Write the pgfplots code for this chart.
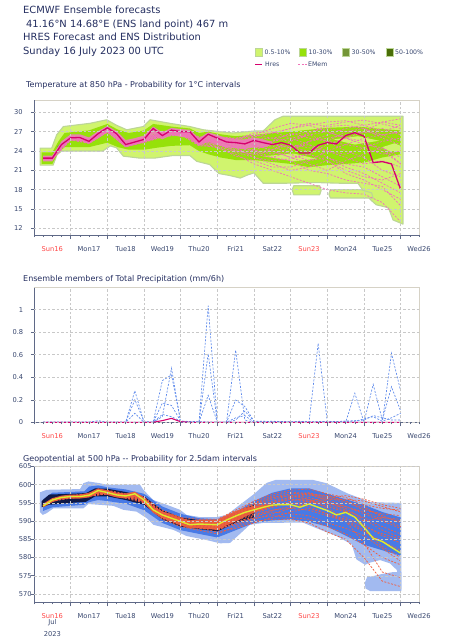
\documentclass[border=0pt]{standalone}
\usepackage{fontspec}
\setmainfont{DejaVu Sans}
\usepackage{pgfplots}
\usepackage{pgfplotstable}
\pgfplotsset{compat=1.18}

\definecolor{titleblue}{RGB}{35,45,95}
\definecolor{ticklab}{RGB}{55,70,110}
\definecolor{sunred}{RGB}{255,70,70}
\definecolor{spine}{RGB}{95,105,135}
\definecolor{frametan}{RGB}{214,210,198}
\definecolor{gridgray}{RGB}{200,200,200}
\definecolor{gLight}{RGB}{208,244,110}
\definecolor{gBorder}{RGB}{188,214,150}
\definecolor{gMid}{RGB}{150,225,10}
\definecolor{gOlive}{RGB}{116,150,55}
\definecolor{gDark}{RGB}{74,110,8}
\definecolor{pinkband}{RGB}{240,125,192}
\definecolor{memb}{RGB}{240,115,185}
\definecolor{hres}{RGB}{214,0,110}
\definecolor{pblue}{RGB}{90,135,235}
\definecolor{bLight}{RGB}{162,186,240}
\definecolor{bMid}{RGB}{72,122,230}
\definecolor{bDark}{RGB}{15,25,70}
\definecolor{orangeband}{RGB}{238,95,60}
\definecolor{zmemb}{RGB}{240,95,65}
\definecolor{zyellow}{RGB}{222,236,45}

\pgfplotstableread{
h m1 m2 m3 m4 m5 m6 m7 m8 m9 m10 m11 m12 m13 m14 m15 m16 m17 m18 m19 m20 m21 m22
6 23.0 22.8 22.9 23.0 22.8 22.9 22.9 23.0 22.7 22.9 22.9 22.8 23.0 22.9 22.9 22.8 23.0 22.9 22.9 22.8 23.0 22.9
12 23.0 22.8 22.9 23.0 22.8 22.9 22.9 23.0 22.7 22.9 22.9 22.8 23.0 22.9 22.9 22.8 23.0 22.9 22.9 22.8 23.0 22.9
24 26.0 25.8 26.0 26.2 26.1 26.0 25.9 26.3 25.7 26.0 26.1 25.9 26.0 26.0 26.0 25.9 26.1 26.0 26.0 25.9 26.2 26.0
36 25.8 25.2 25.5 25.6 25.4 25.7 25.3 25.8 25.2 25.5 25.6 25.4 25.7 25.5 25.5 25.4 25.7 25.6 25.5 25.3 25.8 25.6
48 27.5 27.0 27.4 27.3 27.6 27.2 27.1 27.7 26.9 27.3 27.4 27.2 27.5 27.3 27.4 27.1 27.6 27.3 27.2 27.0 27.6 27.3
60 25.3 24.8 25.0 25.2 25.1 24.9 24.6 25.5 24.7 25.0 25.1 24.9 25.2 25.0 25.0 24.8 25.3 25.1 25.0 24.7 25.4 25.0
72 26.0 25.4 25.8 25.6 25.7 25.9 25.5 25.9 25.3 25.6 25.7 25.6 25.8 25.7 25.8 25.5 26.0 25.7 25.6 25.4 26.0 25.7
84 26.8 26.2 26.5 26.7 26.4 26.6 26.3 27.0 26.2 26.5 26.6 26.4 26.7 26.5 26.6 26.3 26.9 26.5 26.6 26.2 26.8 26.5
96 27.2 26.5 27.0 26.8 27.1 27.0 26.8 27.3 26.6 26.9 27.0 26.9 27.1 27.0 27.0 26.8 27.2 26.9 27.0 26.7 27.2 27.0
108 26.0 25.0 25.6 25.3 25.5 25.8 25.1 26.2 24.8 25.4 25.5 25.2 25.7 25.4 25.6 25.3 25.9 25.5 25.4 25.0 26.0 25.5
120 26.2 24.5 25.5 25.8 25.3 25.7 25.0 26.0 24.7 25.9 26.0 25.2 25.6 25.4 25.8 25.5 26.1 25.0 25.6 24.8 26.2 25.3
132 25.8 23.5 24.5 25.2 24.8 25.3 24.2 25.6 23.2 25.4 25.5 24.0 25.8 24.8 25.0 24.5 25.9 24.0 25.4 23.8 26.0 24.6
144 26.3 22.0 24.0 25.5 24.5 25.8 23.8 25.0 22.5 26.2 25.0 23.5 26.8 24.0 24.8 23.0 26.5 23.5 25.8 23.0 26.5 24.2
156 26.8 21.0 23.0 25.0 24.8 26.0 24.2 25.5 21.5 26.8 24.0 23.0 27.0 25.5 24.2 22.0 27.5 24.0 25.2 22.5 26.0 23.5
168 27.5 20.0 22.5 24.5 23.5 26.5 25.0 26.0 21.5 27.5 23.0 24.0 26.0 26.8 25.5 21.0 28.3 23.0 24.5 22.8 25.5 24.5
180 28.0 19.0 21.0 25.5 22.5 27.0 24.5 26.5 22.5 28.3 23.5 25.5 25.0 26.0 26.5 21.5 28.0 22.0 24.0 23.5 26.8 25.0
192 28.5 18.0 20.5 26.0 23.0 27.5 24.0 25.5 24.0 27.8 25.0 26.5 23.0 25.5 27.0 22.5 27.0 21.0 25.5 22.5 28.0 24.0
204 28.7 17.5 19.5 26.5 22.0 27.0 25.0 24.0 23.0 28.0 26.0 27.5 21.5 25.0 26.0 21.0 26.0 22.5 27.0 20.5 28.5 23.5
216 28.0 17.3 19.0 27.0 21.5 26.8 24.5 23.0 22.0 27.5 25.5 28.0 20.5 26.0 25.0 20.0 27.0 23.5 27.5 19.5 28.8 24.5
228 28.5 16.0 18.5 26.5 20.0 27.5 23.5 21.0 22.5 26.0 24.0 27.0 19.0 26.5 24.5 19.5 28.5 24.5 26.5 18.0 28.2 25.5
240 29.0 13.0 15.5 27.0 18.5 26.5 24.0 20.0 21.5 25.0 22.0 28.0 17.5 25.5 23.0 20.5 28.0 22.0 27.0 16.5 27.5 26.0
}\tmembers

\pgfplotstableread{
h g1 g2 g3 g4 g5 g6 g7 g8 g9 g10 g11 g12 g13 g14 g15 g16 g17 g18 g19
6 594.5 594.0 594.3 594.1 594.2 594.4 594.0 594.3 594.2 594.3 594.1 594.2 594.3 594.2 594.1 594.4 594.2 594.3 594.0
12 596.2 595.5 595.9 595.7 595.8 596.0 595.6 595.9 595.8 595.9 595.7 595.8 595.9 595.8 595.7 596.0 595.8 595.9 595.6
24 597.0 596.3 596.5 596.6 596.9 597.0 596.5 596.8 596.7 596.9 596.6 596.8 596.8 596.7 596.6 596.9 596.7 596.8 596.4
36 597.5 596.8 597.2 597.0 597.3 597.4 596.9 597.2 597.1 597.3 597.0 597.2 597.2 597.1 597.0 597.3 597.1 597.2 596.9
48 598.5 597.5 597.9 597.7 598.0 598.2 597.6 598.1 597.9 598.3 597.6 598.0 598.0 597.9 597.7 598.2 597.8 598.0 597.5
60 597.5 596.3 596.8 597.0 597.2 597.0 596.5 597.1 596.8 597.2 596.6 597.0 597.0 596.9 596.7 597.2 596.8 597.0 596.5
72 596.5 595.0 595.5 596.0 596.2 595.8 595.3 596.0 595.6 596.1 595.4 595.9 595.9 595.7 595.5 596.2 595.6 595.8 595.3
84 593.0 590.5 591.5 592.0 592.5 591.2 591.0 592.2 591.5 592.3 590.8 592.0 592.0 591.8 591.3 592.4 591.6 591.9 590.9
96 591.0 588.5 589.5 590.3 590.0 589.2 589.7 590.5 589.6 590.6 588.9 590.2 590.2 589.9 589.4 590.4 589.8 590.1 589.0
108 590.5 587.5 588.5 589.5 589.0 588.0 589.5 590.0 588.7 589.8 588.2 589.4 589.3 589.0 588.5 589.6 588.9 589.2 588.3
120 590.5 586.5 588.5 589.5 587.5 588.0 590.0 589.2 588.0 590.0 587.0 589.2 588.8 589.5 588.3 589.8 588.6 589.0 587.8
132 593.0 588.5 590.5 592.0 589.5 590.0 592.5 591.0 589.0 592.5 588.0 591.5 590.8 591.8 590.2 592.0 590.5 591.0 589.5
144 595.5 590.0 592.5 594.0 591.5 591.0 594.5 593.5 590.5 595.0 589.5 593.8 593.0 594.2 591.8 594.8 592.0 593.2 590.8
156 597.5 590.5 594.0 596.0 592.5 593.0 595.0 595.5 592.0 597.0 591.0 595.0 594.5 596.5 593.0 596.5 593.8 595.0 591.5
168 598.5 590.5 595.5 597.0 592.0 593.5 596.0 596.5 593.5 598.0 592.5 596.0 595.0 597.5 594.0 597.0 594.8 596.5 591.0
180 598.8 589.5 596.5 597.5 591.5 593.0 595.5 597.0 595.0 597.5 593.5 596.0 594.0 597.8 595.5 596.0 595.5 597.5 590.5
192 597.5 587.0 595.0 596.0 589.5 591.5 594.0 597.0 596.0 595.5 592.0 594.5 592.0 596.5 595.0 593.5 596.5 597.0 588.5
204 596.5 585.0 593.5 594.0 588.0 590.0 592.5 595.5 596.0 593.0 590.5 592.8 590.0 595.0 594.0 591.0 597.0 595.5 586.5
216 594.5 580.0 590.5 592.0 586.0 584.0 590.0 593.0 595.5 589.0 587.5 591.0 587.0 593.5 592.5 588.5 596.0 594.0 583.5
228 593.5 573.5 587.5 590.0 582.5 576.0 591.0 592.0 594.0 586.0 583.0 588.5 584.5 591.5 590.5 586.5 594.5 591.0 580.0
240 593.0 572.0 585.5 588.0 579.0 574.5 590.5 591.5 592.5 584.0 580.0 586.5 582.0 589.5 588.5 585.0 593.5 590.0 578.0
}\zmembers

\pgfplotsset{
  meteo/.style={
    scale only axis, width=385pt, anchor=south west,
    xmin=0, xmax=252, clip=false, axis on top,
    axis line style={draw=none},
    xtick={12,36,...,252},
    xticklabels={\textcolor{sunred}{Sun16},Mon17,Tue18,Wed19,Thu20,Fri21,Sat22,\textcolor{sunred}{Sun23},Mon24,Tue25,Wed26},
    major x tick style={draw=none},
    extra x ticks={24,48,...,240},
    extra x tick labels={},
    extra x tick style={grid=major, major x tick style={draw=spine, line width=0.6pt}, major tick length=4pt},
    minor xtick={0,6,...,252},
    minor tick length=2pt,
    minor x tick style={draw=spine, line width=0.5pt},
    ymajorgrids,
    grid style={draw=gridgray, dash pattern=on 2.5pt off 2pt, line width=0.45pt},
    tick align=outside, tick pos=left,
    major tick length=3pt,
    ytick style={draw=spine, line width=0.5pt},
    tick label style={font=\fontsize{6.7}{8}\selectfont, text=ticklab},
    /pgf/number format/assume math mode=true,
    xticklabel style={yshift=-5pt},
  },
}
\newcommand{\spines}{%
  \draw[frametan, line width=1pt] (rel axis cs:0,1) -- (rel axis cs:1,1) -- (rel axis cs:1,0);
  \draw[spine, line width=0.7pt] (rel axis cs:0,1) -- (rel axis cs:0,0) -- (rel axis cs:1,0);
}

\begin{document}
\begin{tikzpicture}
\useasboundingbox (0,0) rectangle (454pt,-640pt);

% ---- titles
\begin{scope}[every node/.style={anchor=base west, inner sep=0, text=titleblue, font=\fontsize{9.9}{12}\selectfont}]
\node at (23pt,-13.3pt) {ECMWF Ensemble forecasts};
\node at (26pt,-27pt) {41.16°N 14.68°E (ENS land point) 467 m};
\node at (23pt,-40.3pt) {HRES Forecast and ENS Distribution};
\node at (23pt,-54pt) {Sunday 16 July 2023 00 UTC};
\end{scope}
\begin{scope}[every node/.style={anchor=base west, inner sep=0, text=titleblue, font=\fontsize{8}{10}\selectfont}]
\node at (26pt,-87.5pt) {Temperature at 850 hPa - Probability for 1°C intervals};
\node at (23pt,-281.5pt) {Ensemble members of Total Precipitation (mm/6h)};
\node at (23pt,-461.5pt) {Geopotential at 500 hPa -{}- Probability for 2.5dam intervals};
\end{scope}

% ---- legend
\begin{scope}[every node/.style={anchor=west, inner sep=0, text=ticklab, font=\fontsize{6.2}{7}\selectfont}]
\draw[gBorder, fill=gLight] (255pt,-48pt) rectangle (262pt,-56pt);
\node at (264.5pt,-52pt) {0.5-10\%};
\draw[gBorder, fill=gMid] (299pt,-48pt) rectangle (306pt,-56pt);
\node at (308.5pt,-52pt) {10-30\%};
\draw[gBorder, fill=gOlive] (342.5pt,-48pt) rectangle (349.5pt,-56pt);
\node at (351.5pt,-52pt) {30-50\%};
\draw[gBorder, fill=gDark] (386pt,-48pt) rectangle (393pt,-56pt);
\node at (395pt,-52pt) {50-100\%};
\draw[hres, line width=1.2pt] (255pt,-64.5pt) -- (262pt,-64.5pt);
\node at (265pt,-64.5pt) {Hres};
\draw[memb, line width=0.7pt, dash pattern=on 2pt off 1.5pt] (298pt,-64.5pt) -- (306.5pt,-64.5pt);
\node at (308pt,-64.5pt) {EMem};
\end{scope}

% ================= Panel 1: temperature
\begin{axis}[meteo, at={(34pt,-235pt)}, height=135pt,
  ymin=10.96, ymax=31.92, ytick={12,15,...,30},
  yticklabel style={xshift=-4.8pt}]
\spines
\addplot[fill=gLight, draw=gBorder, line width=1.1pt, line join=round] coordinates {
(4,24.45)(11.6,24.45)(14.8,26.5)(19.2,27.8)(36.6,28.3)(47.6,28.85)(54,28.0)(60.7,27.3)(71.5,27.8)(76,28.85)(89,28.3)(102,27.8)(110.8,27.3)(121.7,27.0)(130,26.8)(144,27.1)(150,27.1)(157.7,28.85)(163,29.4)(241.5,29.4)
(241.5,12.65)(235,13.3)(232,15.2)(224,15.65)(220,16.5)(215,18.0)(212,19.0)(200,19.0)(185,19.1)(165,19.0)(150,19.0)(144,20.6)(140,20.3)(135,19.8)(128,20.2)(121,20.5)(115,21.9)(106.5,22.4)(102,23.3)(91,23.3)(79,22.9)(69,22.9)(58.5,23.2)(54,24.5)(50,24.8)(45,24.0)(18,24.0)(15,23.4)(12.5,21.8)(4,21.8)} -- cycle;
\addplot[fill=gLight, draw=gBorder, line width=1.1pt, line join=round] coordinates {
(169,18.0)(170,18.6)(187,18.6)(188,17.9)(187,17.2)(170,17.2)} -- cycle;
\addplot[fill=gLight, draw=gBorder, line width=1.1pt, line join=round] coordinates {
(193,17.3)(194,18.0)(214,18.0)(221,17.5)(222,16.7)(194,16.7)} -- cycle;
\addplot[fill=gMid, draw=none] coordinates {
(5,23.8)(12,23.8)(16,25.5)(20,26.8)(36,27.2)(48,28.2)(55,27.3)(62,26.8)(72,27.2)(78,28.2)(90,27.8)(102,27.5)(108,26.8)(114,27.0)(122,26.6)(132,26.3)(144,26.5)(156,26.8)(168,27.0)(180,27.3)(192,27.6)(204,27.7)(216,27.7)(228,27.4)(240,27.2)
(240,23.5)(228,23.0)(216,22.2)(204,22.0)(192,21.8)(180,21.5)(168,22.0)(156,22.3)(144,22.6)(132,22.6)(122,23.0)(114,23.5)(108,24.0)(102,24.9)(90,24.8)(80,24.5)(72,24.2)(62,24.2)(55,24.6)(48,25.3)(36,24.6)(20,24.6)(16,23.8)(12,22.0)(5,22.0)} -- cycle;
\addplot[fill=gLight, draw=none] coordinates {(150,23.2)(170,23.6)(185,22.8)(170,22.4)} -- cycle;
\addplot[fill=gLight, draw=none] coordinates {(196,25.8)(212,26.3)(226,25.6)(210,25.0)} -- cycle;
\addplot[fill=gLight, draw=none] coordinates {(228,24.6)(236,25.2)(240,24.8)(240,24.0)(232,24.0)} -- cycle;
\addplot[fill=gOlive, draw=none] coordinates {(15,24.6)(18,25.4)(21,25.0)(18,24.4)} -- cycle;
\addplot[fill=pinkband, draw=none, fill opacity=0.9] coordinates {
(6,23.3)(12,23.3)(18,25.5)(24,26.6)(30,26.6)(36,26.1)(42,27.1)(48,27.9)(54,27.1)(60,25.7)(66,26.0)(72,26.4)(78,27.8)(84,26.9)(90,27.6)(96,27.4)(102,27.3)(108,26.0)(114,26.9)(120,26.5)(126,26.0)(132,25.8)(138,25.8)(144,26.1)(150,25.8)(156,25.4)
(156,25.0)(150,24.5)(144,24.6)(138,24.3)(132,24.4)(126,24.6)(120,25.0)(114,25.5)(108,24.8)(102,26.0)(96,26.2)(90,26.5)(84,25.8)(78,26.6)(72,25.3)(66,25.0)(60,24.6)(54,26.0)(48,26.9)(42,26.0)(36,25.1)(30,25.7)(24,25.6)(18,24.5)(12,22.4)(6,22.4)} -- cycle;
\foreach \c in {m1,m2,m3,m4,m5,m6,m7,m8,m9,m10,m11,m12,m13,m14,m15,m16,m17,m18,m19,m20,m21,m22}{
  \addplot[memb, line width=0.75pt, dash pattern=on 2pt off 1.5pt] table[x=h, y=\c] {\tmembers};
}
\addplot[hres, line width=1.3pt] coordinates {
(6,22.9)(12,22.9)(18,25.0)(24,26.05)(30,26.1)(36,25.5)(42,26.7)(48,27.6)(54,26.7)(60,25.0)(66,25.4)(72,25.8)(78,27.5)(84,26.4)(90,27.25)(96,27.0)(102,27.0)(108,25.4)(114,26.6)(120,26.0)(126,25.4)(132,25.3)(138,25.1)(144,25.65)(150,25.3)(156,25.0)(162,25.3)(168,24.9)(174,23.7)(180,23.7)(186,24.9)(192,25.3)(198,25.1)(204,26.4)(210,26.85)(216,26.3)(222,22.2)(228,22.35)(234,22.0)(240,18.0)};
\end{axis}

% ================= Panel 2: precipitation
\begin{axis}[meteo, at={(34pt,-422.3pt)}, height=134.6pt,
  ymin=0, ymax=1.195, ytick={0,0.2,0.4,0.6,0.8,1}, yticklabels={0,0.2,0.4,0.6,0.8,1},
  yticklabel style={xshift=-4.3pt}]
\spines
\addplot[pblue, line width=0.65pt, dash pattern=on 2pt off 1.5pt] coordinates {
(6,0)(54,0)(60,0)(66,0.28)(72,0)(78,0)(84,0.05)(90,0.48)(96,0)(108,0)(114,0.24)(120,0)(126,0)(132,0.64)(138,0.02)(144,0)(180,0)(186,0.70)(192,0)(228,0)(234,0.613)(240,0.278)};
\addplot[pblue, line width=0.65pt, dash pattern=on 2pt off 1.5pt] coordinates {
(6,0)(60,0)(66,0.2)(72,0.01)(78,0)(84,0.37)(90,0.42)(96,0.01)(108,0)(114,1.036)(120,0)(126,0)(132,0.198)(138,0.14)(144,0.01)(204,0)(210,0.258)(216,0)(222,0.337)(228,0.02)(234,0.316)(240,0.1)};
\addplot[pblue, line width=0.65pt, dash pattern=on 2pt off 1.5pt] coordinates {
(6,0)(36,0)(42,0.015)(48,0)(60,0)(66,0.08)(72,0)(78,0)(84,0.17)(90,0.15)(96,0.01)(108,0)(114,0.61)(120,0)(126,0)(132,0.02)(138,0.1)(144,0.01)(150,0.005)(156,0.01)(162,0.005)(168,0)(174,0.01)(180,0)(204,0.01)(216,0.02)(222,0.06)(228,0.04)(234,0.02)(240,0.02)};
\addplot[pblue, line width=0.65pt, dash pattern=on 2pt off 1.5pt] coordinates {
(6,0)(78,0)(84,0.07)(90,0.05)(96,0.01)(126,0)(132,0.04)(138,0.06)(144,0)(210,0.01)(216,0.03)(222,0.05)(228,0.01)(234,0.04)(240,0.08)};
\addplot[hres, line width=1.1pt] coordinates {
(6,0)(78,0)(84,0.015)(90,0.035)(96,0.005)(102,0)(240,0)};
\end{axis}

% ================= Panel 3: geopotential
\begin{axis}[meteo, at={(34pt,-602.3pt)}, height=135.8pt,
  ymin=567.7, ymax=605, ytick={570,575,...,605},
  yticklabel style={xshift=4.2pt}]
\spines
\addplot[fill=bLight, draw=none] coordinates {
(3.9,597.9)(8.3,598.6)(30.1,598.8)(32.3,600.4)(35.6,600.9)(43.2,600.4)(47.6,600.0)(69.4,600.0)(71.6,598.6)(78.1,595.8)(86.8,594.5)(95.6,593.1)(99.9,591.7)(108.7,591.1)(119.6,591.1)(126.1,591.7)(134.8,594.5)(143.6,597.3)(152.3,600.5)(158,601.3)(182.8,601.3)(191.6,600.4)(195.9,599.5)(204.7,597.7)(213.4,596.3)(219.9,595.2)(240.5,595.0)
(240.5,571.1)(237.4,576.6)(233,578.4)(226.5,579.3)(219.9,578.6)(216.7,578.0)(211,579.5)(208,583.6)(198,585.9)(187,587.7)(176,589.6)(150,589.5)(141.3,589.0)(134.8,586.5)(128.3,584.0)(121.8,583.9)(113,584.8)(99.9,585.9)(91.2,587.6)(78.1,589.0)(73.8,590.8)(67.2,592.6)(58.5,593.1)(51.9,594.2)(35.6,594.7)(32.3,593.5)(12.7,593.5)(8.3,592.2)(5.7,591.7)(3.9,592.5)} -- cycle;
\addplot[fill=bLight, draw=none] coordinates {
(216.5,573.0)(218,574.6)(223,575.0)(228,575.5)(235,576)(240.5,576)(240.5,570.8)(236,570.8)(220,570.8)(217,571.5)} -- cycle;
\addplot[fill=bMid, draw=none] coordinates {
(6,596.0)(12,597.8)(24,598.0)(33,598.2)(36,599.5)(42,599.8)(48,599.3)(60,598.7)(72,597.5)(84,594.0)(96,592.0)(108,590.8)(120,590.5)(132,592.5)(144,595.5)(156,597.8)(168,599.0)(180,599.0)(192,597.5)(204,596.0)(216,594.5)(228,592.5)(240,591.0)
(240,580.5)(228,582.0)(216,583.5)(204,586.0)(192,588.5)(180,589.8)(168,590.5)(156,590.2)(144,589.5)(132,587.5)(120,585.5)(108,586.5)(96,587.5)(84,589.5)(72,593.0)(60,594.8)(48,595.5)(42,595.8)(36,595.2)(33,594.5)(24,594.2)(12,593.8)(6,592.8)} -- cycle;
\addplot[fill=bDark, draw=none] coordinates {
(5,595.5)(10,597.3)(24,597.5)(34,597.7)(40,599.0)(48,598.9)(60,598.0)(72,596.8)(84,593.0)(96,591.0)(108,590.3)(120,590.0)(132,592.5)(144,594.5)
(144,591.0)(132,589.5)(120,587.2)(108,587.8)(96,588.5)(84,590.5)(72,594.5)(60,595.8)(48,596.8)(40,596.8)(34,595.3)(24,595.0)(10,594.5)(5,593.8)} -- cycle;
\addplot[fill=orangeband, draw=none, fill opacity=0.95] coordinates {
(6,594.8)(12,596.3)(18,597.0)(24,597.3)(30,597.3)(36,597.8)(42,599.0)(48,598.5)(54,597.8)(60,597.6)(66,598.1)(72,596.6)(78,594.0)(84,592.7)(90,591.9)(96,591.0)(102,590.2)(108,590.4)(114,590.4)(120,590.4)(126,591.6)(132,592.8)(138,593.6)(144,594.2)(150,594.4)(156,594.6)
(156,594.2)(150,593.2)(144,592.3)(138,591.2)(132,589.9)(126,588.8)(120,587.6)(114,587.8)(108,588.0)(102,588.0)(96,588.8)(90,589.8)(84,590.8)(78,592.3)(72,595.0)(66,596.7)(60,596.2)(54,596.5)(48,597.2)(42,597.7)(36,596.5)(30,596.2)(24,596.2)(18,596.0)(12,595.2)(6,593.8)} -- cycle;
\foreach \c in {g1,g2,g3,g4,g5,g6,g7,g8,g9,g10,g11,g12,g13,g14,g15,g16,g17,g18,g19}{
  \addplot[zmemb, line width=0.75pt, dash pattern=on 2pt off 1.5pt] table[x=h, y=\c] {\zmembers};
}
\addplot[zyellow, line width=1.4pt] coordinates {
(6,594.2)(12,595.8)(18,596.5)(24,596.75)(30,596.75)(36,597.1)(42,598.4)(48,597.85)(54,597.2)(60,596.9)(66,597.5)(72,595.8)(78,593.1)(84,591.7)(90,590.8)(96,589.9)(102,589.0)(108,589.2)(114,589.1)(120,589.0)(126,590.3)(132,591.4)(138,592.4)(144,593.1)(150,593.8)(156,594.4)(162,594.55)(168,594.5)(174,593.8)(180,594.7)(186,593.8)(192,592.9)(198,591.7)(204,592.4)(210,591.1)(216,588.3)(222,585.3)(228,584.4)(234,582.8)(240,581.2)};
\node[font=\fontsize{6.7}{8}\selectfont, text=ticklab, inner sep=0] at (axis cs:12,567.7) [yshift=-20.7pt] {Jul};
\node[font=\fontsize{6.7}{8}\selectfont, text=ticklab, inner sep=0] at (axis cs:12,567.7) [yshift=-31.7pt] {2023};
\end{axis}
\end{tikzpicture}
\end{document}
